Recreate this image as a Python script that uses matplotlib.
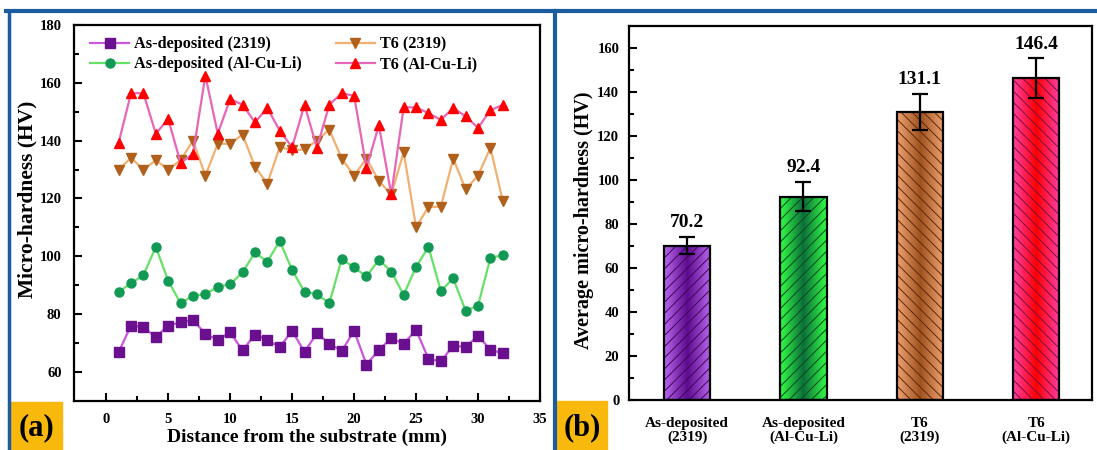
import numpy as np
import matplotlib
matplotlib.use('Agg')
import matplotlib.pyplot as plt
from matplotlib.colors import LinearSegmentedColormap
from matplotlib.patches import Rectangle
from matplotlib.lines import Line2D

# ---- data ----
distance = [1, 2, 3, 4, 5, 6, 7, 8, 9, 10, 11, 12, 13, 14, 15, 16,
            17, 18, 19, 20, 21, 22, 23, 24, 25, 26, 27, 28, 29, 30, 31, 32]
asdep_2319 = [66.8, 76.0, 75.4, 72.0, 76.0, 77.1, 78.0, 73.1, 71.0, 73.7, 67.4, 72.9,
              71.0, 68.5, 74.2, 66.8, 73.4, 69.7, 67.2, 74.2, 62.5, 67.6, 71.6, 69.7,
              74.5, 64.5, 63.6, 69.1, 68.5, 72.5, 67.6, 66.4]
asdep_alculi = [87.7, 90.6, 93.4, 103.2, 91.5, 83.7, 86.3, 86.9, 89.4, 90.3, 94.4, 101.3,
                98.1, 105.3, 95.2, 87.7, 86.9, 83.7, 99.0, 96.1, 93.0, 98.8, 94.7, 86.6,
                96.3, 103.2, 88.0, 92.3, 81.1, 82.9, 99.5, 100.3]
t6_2319 = [130.0, 134.0, 130.0, 133.2, 130.0, 133.2, 140.0, 127.9, 138.9, 138.9, 142.1, 131.0,
           125.1, 137.8, 136.6, 137.0, 140.0, 143.8, 133.8, 127.9, 133.8, 126.0, 121.4, 136.0,
           110.0, 117.1, 117.1, 133.8, 123.1, 127.9, 137.5, 119.1]
t6_alculi = [139.2, 156.4, 156.4, 142.4, 147.5, 132.3, 135.4, 162.5, 142.4, 154.4, 152.4, 146.3,
             151.3, 143.4, 137.7, 152.4, 137.5, 152.4, 156.4, 155.5, 130.6, 145.3, 121.4, 151.5,
             151.5, 149.5, 147.2, 151.3, 148.4, 144.4, 150.5, 152.4]

bar_labels = ['As-deposited\n(2319)', 'As-deposited\n(Al-Cu-Li)', 'T6\n(2319)', 'T6\n(Al-Cu-Li)']
bar_means = [70.2, 92.4, 131.1, 146.4]
bar_errs = [4.0, 6.7, 8.2, 9.0]

plt.rcParams['font.family'] = 'Liberation Serif'
plt.rcParams['font.weight'] = 'bold'
plt.rcParams['axes.labelweight'] = 'bold'
plt.rcParams['hatch.linewidth'] = 0.7

W, H = 1097, 450
fig = plt.figure(figsize=(W / 100, H / 100), dpi=100)

def fx(px):
    return px / W

def fy(py):
    return 1 - py / H

# ---- (a) line chart ----
ax1 = fig.add_axes([fx(74), fy(400.7), fx(540 - 74), (400.7 - 25) / H])
# order gives the legend rows: 2319 pair on top, Al-Cu-Li pair below
series = [
    (asdep_2319, 'As-deposited (2319)', '#cc55dd', '#6a0f8e', 's'),
    (asdep_alculi, 'As-deposited (Al-Cu-Li)', '#66e066', '#129a55', 'o'),
    (t6_2319, 'T6 (2319)', '#f2b070', '#b0601a', 'v'),
    (t6_alculi, 'T6 (Al-Cu-Li)', '#e866b8', '#ff0000', '^'),
]
for vals, lab, lc, mc, mk in series:
    ax1.plot(distance, vals, color=lc, lw=1.6, marker=mk, ms=6.5,
             mfc=mc, mec=mc, label=lab)

ax1.set_xlim(-2.6, 35)
ax1.set_ylim(50, 180)
ax1.set_xticks(np.arange(0, 36, 5))
ax1.set_xticks(np.arange(2.5, 35, 5), minor=True)
ax1.set_yticks(np.arange(60, 181, 20))
ax1.set_yticks(np.arange(70, 180, 20), minor=True)
ax1.tick_params(which='both', direction='in', width=1.5, labelsize=10.5, top=False, right=False)
ax1.tick_params(which='major', length=6)
ax1.tick_params(which='minor', length=3.5)
ax1.tick_params(axis='y', pad=9)
ax1.tick_params(axis='x', pad=9)
for s in ax1.spines.values():
    s.set_linewidth(1.6)
ax1.set_ylabel('Micro-hardness (HV)', fontsize=15.5)
ax1.set_xlabel('Distance from the substrate (mm)', fontsize=14)
ax1.yaxis.set_label_coords(-0.079, 0.535)
ax1.xaxis.set_label_coords(0.5, -0.097)
ax1.xaxis.label.set_va('center')
ax1.legend(loc='upper left', ncol=2, frameon=False, fontsize=11.7,
           handlelength=2.4, handletextpad=0.3, columnspacing=2.1,
           labelspacing=0.25, borderaxespad=0.3, bbox_to_anchor=(0.01, 1.0))

# ---- (b) bar chart ----
ax2 = fig.add_axes([fx(629), fy(400), fx(1092 - 629), (400 - 26) / H])
pos = [1, 2, 3, 4]
grads = [('#5e0b8f', '#bb66ee'), ('#0c6e3a', '#33ff44'),
         ('#a0521e', '#f0a272'), ('#ff0000', '#ff40a8')]
hatch_cols = ['#3a0a55', '#0a4a20', '#5a2a10', '#7a1040']
hatches = ['///', '///', '\\\\\\', '\\\\\\']

bars = ax2.bar(pos, bar_means, width=0.4, color='none', edgecolor='none', zorder=2)
t = np.abs(np.linspace(-1, 1, 200))[None, :]
for b, (dark, light), hc, hh in zip(bars, grads, hatch_cols, hatches):
    cmap = LinearSegmentedColormap.from_list('g', [dark, light])
    x0, w, h = b.get_x(), b.get_width(), b.get_height()
    im = ax2.imshow(t, extent=[x0, x0 + w, 0, h], aspect='auto', cmap=cmap,
                    vmin=0, vmax=1, zorder=2, origin='lower')
    im.set_clip_path(b)
    ax2.bar(x0 + w / 2, h, width=w, color='none', edgecolor=hc, lw=0,
            hatch=hh, zorder=3)
ax2.bar(pos, bar_means, width=0.4, fill=False, edgecolor='black', lw=1.6, zorder=4)
ax2.errorbar(pos, bar_means, yerr=bar_errs, fmt='none', ecolor='black',
             elinewidth=1.6, capsize=6, capthick=1.6, zorder=5)
for p, m, e in zip(pos, bar_means, bar_errs):
    ax2.text(p, m + e + 2.5, f'{m}', ha='center', va='bottom', fontsize=14, fontweight='bold')

ax2.set_xlim(0.5, 4.48)
ax2.set_ylim(0, 170)
ax2.set_xticks(pos)
ax2.set_xticklabels(bar_labels, fontsize=11, linespacing=1.1)
ax2.set_yticks(np.arange(0, 161, 20))
ax2.set_yticks(np.arange(10, 170, 20), minor=True)
ax2.tick_params(axis='y', which='both', direction='in', width=1.5, labelsize=10.5, pad=7)
ax2.tick_params(axis='y', which='major', length=6)
ax2.tick_params(axis='y', which='minor', length=3.5)
ax2.tick_params(axis='x', length=0, pad=12)
for s in ax2.spines.values():
    s.set_linewidth(1.6)
ax2.set_ylabel('Average micro-hardness (HV)', fontsize=14.5)
ax2.yaxis.set_label_coords(-0.076, 0.48)

# ---- panel frames and labels ----
blue = '#1b5c9e'
fig.add_artist(Line2D([fx(6), fx(W)], [fy(11), fy(11)], color=blue, lw=3))
fig.add_artist(Line2D([fx(8.5), fx(8.5)], [fy(11), 0], color=blue, lw=2.5))
fig.add_artist(Line2D([fx(555), fx(555)], [fy(11), 0], color=blue, lw=3))
gold = '#f9b80c'
fig.add_artist(Rectangle((fx(10), 0), fx(52), (450 - 401.5) / H, color=gold,
                         transform=fig.transFigure, zorder=0))
fig.add_artist(Rectangle((fx(557), 0), fx(50), (450 - 401) / H, color=gold,
                         transform=fig.transFigure, zorder=0))
fig.text(fx(36), fy(428), '(a)', fontsize=22, fontweight='bold', ha='center', va='center')
fig.text(fx(582), fy(428), '(b)', fontsize=22, fontweight='bold', ha='center', va='center')

fig.savefig('out.png', dpi=100)
